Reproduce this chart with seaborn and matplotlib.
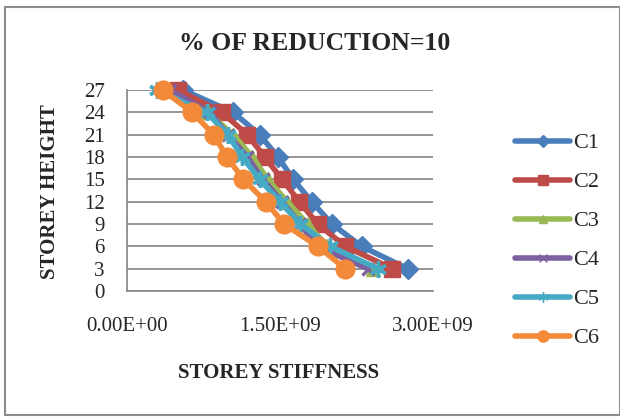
import matplotlib
matplotlib.use("Agg")
import matplotlib.pyplot as plt
from matplotlib.lines import Line2D
from matplotlib.patches import Rectangle
import seaborn as sns
import pandas as pd

# Storey heights (m) and storey stiffness per case (x 1e9)
heights = [3, 6, 9, 12, 15, 18, 21, 24, 27]
C1 = [2.75, 2.30, 2.01, 1.81, 1.63, 1.48, 1.30, 1.04, 0.55]
C2 = [2.60, 2.14, 1.87, 1.69, 1.52, 1.35, 1.18, 0.93, 0.50]
C3 = [2.41, 1.96, 1.77, 1.57, 1.38, 1.23, 1.04, 0.79, 0.39]
C4 = [2.36, 1.86, 1.70, 1.52, 1.33, 1.18, 0.99, 0.81, 0.42]
C5 = [2.46, 1.99, 1.70, 1.50, 1.30, 1.13, 0.99, 0.78, 0.29]
C6 = [2.14, 1.87, 1.54, 1.36, 1.14, 0.98, 0.85, 0.64, 0.35]

series_names = ["C1", "C2", "C3", "C4", "C5", "C6"]
series_vals = [C1, C2, C3, C4, C5, C6]
x_ticks = [0.0, 1.5e9, 3.0e9]
x_tick_labels = ["0.00E+00", "1.50E+09", "3.00E+09"]
y_ticks = [0, 3, 6, 9, 12, 15, 18, 21, 24, 27]

colors = ["#4A7EBB", "#BE4B48", "#98B954", "#7D60A0", "#46AAC5", "#F38A3A"]
markers = ["D", "s", "^", "x", (6, 2, 0), "o"]
msizes = [10.5, 11, 10, 9, 12, 13.5]

rows = []
for name, vals in zip(series_names, series_vals):
    for h, v in zip(heights, vals):
        rows.append({"series": name, "height": h, "stiffness": v * 1e9})
df = pd.DataFrame(rows)

sns.set_style("white")
plt.rcParams["font.family"] = ["Liberation Serif", "DejaVu Serif"]

fig = plt.figure(figsize=(6.2, 4.17), dpi=100)
ax = fig.add_axes([127 / 620, 1 - 291 / 417, 306 / 620, 201 / 417])

for name, c, m, ms in zip(series_names, colors, markers, msizes):
    sub = df[df["series"] == name]
    thin = m == "x" or isinstance(m, tuple)
    sns.lineplot(data=sub, x="stiffness", y="height", orient="y", sort=True,
                 color=c, linewidth=4.0, marker=m, markersize=ms,
                 markeredgecolor=c, markeredgewidth=2.4 if thin else 1,
                 solid_joinstyle="round", ax=ax, legend=False, zorder=3)
for ln in ax.lines:
    ln.set_clip_on(False)

ax.set_xlim(0, 3.0e9)
ax.set_ylim(0, 27)
ax.set_xticks(x_ticks)
ax.set_xticklabels(x_tick_labels)
ax.set_yticks(y_ticks)
ax.tick_params(axis="x", length=0, pad=19, labelsize=15)
ax.tick_params(axis="y", length=0, pad=16, labelsize=15)
ax.yaxis.grid(True, color="#8c8c8c", linewidth=1.3)
ax.xaxis.grid(False)
for side in ("top", "right"):
    ax.spines[side].set_visible(False)
for side in ("left", "bottom"):
    ax.spines[side].set_color("#8c8c8c")
    ax.spines[side].set_linewidth(1.3)

ax.set_xlabel("STOREY STIFFNESS", fontsize=15, fontweight="bold")
ax.set_ylabel("STOREY HEIGHT", fontsize=15, fontweight="bold")
ax.xaxis.set_label_coords((279 - 127) / 306, (291 - 373) / 201)
ax.xaxis.label.set_va("center")
ax.yaxis.set_label_coords((50 - 127) / 306, (291 - 192) / 201)
ax.yaxis.label.set_va("center")

fig.text(315 / 620, 1 - 43 / 417, "% OF REDUCTION=10", ha="center", va="center",
         fontsize=18.5, fontweight="bold")

handles = [Line2D([], [], color=c, linewidth=4.0, marker=m, markersize=ms * 0.6,
                  markeredgecolor=c, solid_capstyle="round")
           for c, m, ms in zip(colors, markers, msizes)]
leg = fig.legend(handles, series_names, loc="upper left",
                 bbox_to_anchor=(506 / 620, 1 - 124 / 417), frameon=False,
                 fontsize=16, handlelength=2.5, handletextpad=0.1,
                 labelspacing=0.83, borderaxespad=0)

fig.patches.append(Rectangle((5 / 620, 2 / 417), 615 / 620, 408 / 417,
                             transform=fig.transFigure, fill=False,
                             edgecolor="#8c8c8c", linewidth=1.5))

fig.savefig("out.png", dpi=100)
